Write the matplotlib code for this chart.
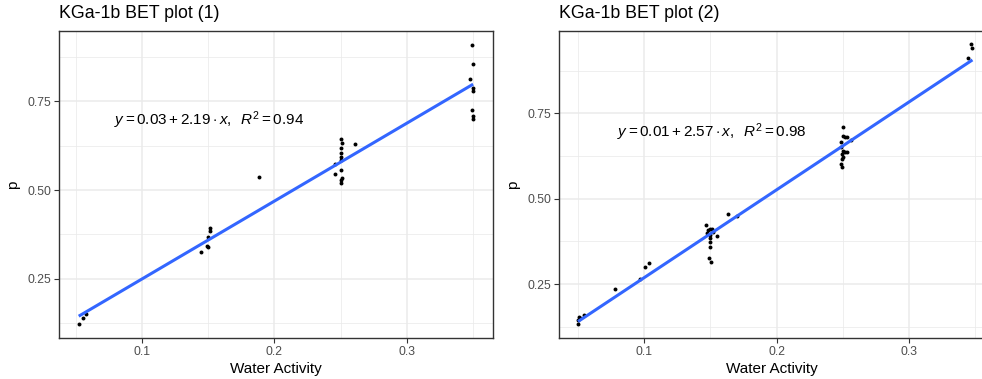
import numpy as np
import matplotlib
matplotlib.use("Agg")
import matplotlib.pyplot as plt
from matplotlib.ticker import MultipleLocator

plt.rcParams["font.family"] = ["Liberation Sans", "DejaVu Sans"]
plt.rcParams["mathtext.fontset"] = "custom"
plt.rcParams["mathtext.rm"] = "Liberation Sans"
plt.rcParams["mathtext.it"] = "Liberation Sans:italic"

# BET plot (1): water activity vs p
aw_1 = [0.349, 0.350, 0.348, 0.350, 0.350, 0.349, 0.350, 0.350,
        0.250, 0.251, 0.2605, 0.250, 0.250, 0.250, 0.250, 0.246, 0.250, 0.246, 0.251, 0.250, 0.250,
        0.188,
        0.151, 0.151, 0.150, 0.149, 0.150, 0.1446,
        0.0522, 0.0552, 0.0577]
p_1 = [0.909, 0.853, 0.811, 0.788, 0.779, 0.726, 0.708, 0.699,
       0.642, 0.633, 0.629, 0.617, 0.603, 0.594, 0.584, 0.572, 0.556, 0.545, 0.533, 0.528, 0.521,
       0.537,
       0.392, 0.386, 0.369, 0.344, 0.339, 0.325,
       0.123, 0.140, 0.151]
intercept_1, slope_1, r2_1 = 0.031, 2.19, 0.94

# BET plot (2)
aw_2 = [0.347, 0.348, 0.345,
        0.2504, 0.250, 0.252, 0.253, 0.256, 0.249, 0.249, 0.250, 0.2515, 0.253, 0.2495, 0.250, 0.2495,
        0.249, 0.2495,
        0.1635, 0.1698,
        0.1464, 0.148, 0.1496, 0.151, 0.1475, 0.152, 0.150, 0.1547, 0.150, 0.1495, 0.1495,
        0.1487, 0.1502,
        0.1036, 0.1005, 0.0968, 0.0776,
        0.0501, 0.0509, 0.0516, 0.0546, 0.0499]
p_2 = [0.953, 0.940, 0.912,
       0.709, 0.684, 0.682, 0.682, 0.672, 0.667, 0.652, 0.641, 0.638, 0.638, 0.631, 0.623, 0.617,
       0.602, 0.592,
       0.454, 0.449,
       0.422, 0.408, 0.410, 0.410, 0.400, 0.402, 0.393, 0.391, 0.384, 0.372, 0.359,
       0.327, 0.314,
       0.313, 0.299, 0.264, 0.236,
       0.145, 0.154, 0.152, 0.158, 0.132]
intercept_2, slope_2, r2_2 = 0.012, 2.57, 0.98

panels = [
    ("KGa-1b BET plot (1)", aw_1, p_1, intercept_1, slope_1, r2_1,
     [59 / 982, 41 / 379, 434 / 982, 307 / 379], (0.0373, 0.365), (0.084, 0.947), (0.079, 0.697)),
    ("KGa-1b BET plot (2)", aw_2, p_2, intercept_2, slope_2, r2_2,
     [559 / 982, 41 / 379, 426 / 982, 307 / 379], (0.0355, 0.3575), (0.092, 0.991), (0.079, 0.696)),
]

fig = plt.figure(figsize=(9.82, 3.79), dpi=100)

for title, x, y, b0, b1, r2, rect, xlim, ylim, lab in panels:
    ax = fig.add_axes(rect)
    ax.set_facecolor("white")
    ax.set_xlim(*xlim)
    ax.set_ylim(*ylim)
    ax.xaxis.set_major_locator(MultipleLocator(0.1))
    ax.xaxis.set_minor_locator(MultipleLocator(0.05))
    ax.yaxis.set_major_locator(MultipleLocator(0.25))
    ax.yaxis.set_minor_locator(MultipleLocator(0.125))
    ax.xaxis.set_major_formatter(lambda v, pos: f"{v:.1f}")
    ax.yaxis.set_major_formatter(lambda v, pos: f"{v:.2f}")
    ax.grid(which="major", color="#EBEBEB", linewidth=1.1)
    ax.grid(which="minor", color="#EBEBEB", linewidth=0.55)
    ax.set_axisbelow(True)
    for s in ax.spines.values():
        s.set_color("#333333")
        s.set_linewidth(1.0)
    ax.tick_params(which="major", length=3.5, width=0.8, color="#333333",
                   labelcolor="#4D4D4D", labelsize=8.8, pad=2)
    ax.tick_params(which="minor", length=0)

    ax.scatter(x, y, s=8, color="black", linewidths=0, zorder=3)

    xs = np.array([min(x), max(x)])
    ax.plot(xs, b0 + b1 * xs, color="#3366FF", linewidth=2.2, zorder=4,
            solid_capstyle="butt")

    eq = rf"$y = {b0:.2f} + {b1:.2f} \cdot x,\;\;R^2 = {r2:.2f}$"
    ax.text(lab[0], lab[1], eq, fontsize=11, ha="left", va="center", zorder=5)

    ax.set_title(title, loc="left", fontsize=12.8, pad=9)
    ax.set_xlabel("Water Activity", fontsize=11, labelpad=3)
    ax.set_ylabel("p", fontsize=11, labelpad=5)

fig.savefig("out.png", dpi=100)
